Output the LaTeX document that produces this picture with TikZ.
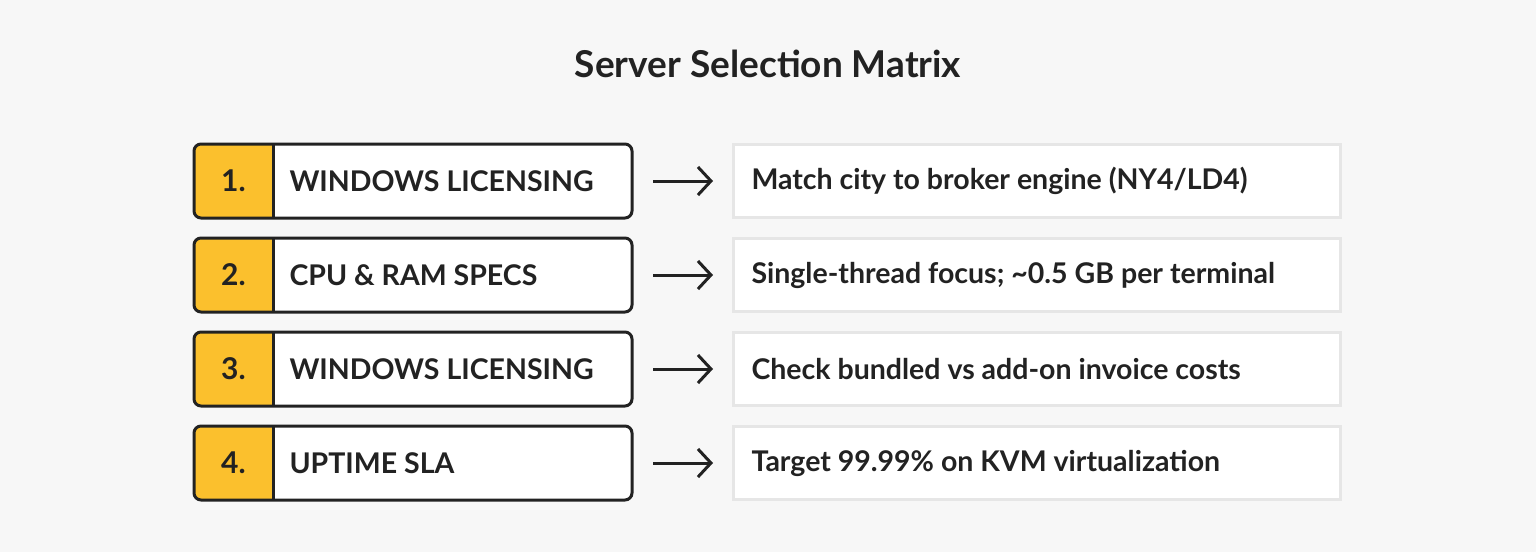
\documentclass[tikz,border=0pt]{standalone}
\usepackage{fontspec}
\setmainfont{Lato}
\usetikzlibrary{arrows.meta}
\begin{document}
\begin{tikzpicture}[x=1pt,y=-1pt,
  lab/.style={font=\fontsize{28.5}{32}\selectfont\bfseries,text=txt,anchor=west},
  num/.style={font=\fontsize{30}{32}\selectfont\bfseries,text=txt}]
\definecolor{bg}{HTML}{F7F7F7}\definecolor{txt}{HTML}{222222}
\definecolor{yel}{HTML}{FBC02D}\definecolor{gb}{HTML}{E6E6E6}
\fill[bg] (0,0) rectangle (1536,552);
\useasboundingbox (0,0) rectangle (1536,552);
\node[font=\fontsize{37}{42}\selectfont\bfseries,text=txt] (title) at (768,64) {Server Selection Matrix};
\foreach \i/\n/\a/\b in {1/1./WINDOWS LICENSING/{Match city to broker engine (NY4/LD4)},
  2/2./CPU \& RAM SPECS/{Single-thread focus; \textasciitilde0.5 GB per terminal},
  3/3./WINDOWS LICENSING/{Check bundled vs add-on invoice costs},
  4/4./UPTIME SLA/{Target 99.99\% on KVM virtualization}}{
  \pgfmathsetmacro\y{181+94*(\i-1)}
  \fill[yel,rounded corners=7pt] (194,\y-37) -- (273,\y-37) -- (273,\y+37) -- (194,\y+37) -- cycle;
  \fill[yel] (230,\y-37) rectangle (273,\y+37);
  \fill[white] (273,\y-37) rectangle (632,\y+37);
  \draw[txt,line width=3pt,rounded corners=7pt] (632,\y-37) -- (194,\y-37) -- (194,\y+37) -- (632,\y+37) -- cycle;
  \draw[txt,line width=3pt] (273,\y-37) -- (273,\y+37);
  \node[num] (n\i) at (233.5,\y) {\n};
  \node[lab] (l\i) at (286,\y) {\a};
  \node[draw=gb,line width=3pt,fill=white,minimum width=607pt,minimum height=73pt,inner sep=0pt] (r\i) at (1037,\y) {};
  \node[lab] (t\i) at (748,\y) {\b};
  \coordinate (s\i) at (653,\y); \coordinate (e\i) at (713,\y);
  \draw[txt,line width=3pt,-{Straight Barb[length=13pt,width=28pt,line width=3pt]}] (s\i) -- (e\i);
}
\end{tikzpicture}
\end{document}
